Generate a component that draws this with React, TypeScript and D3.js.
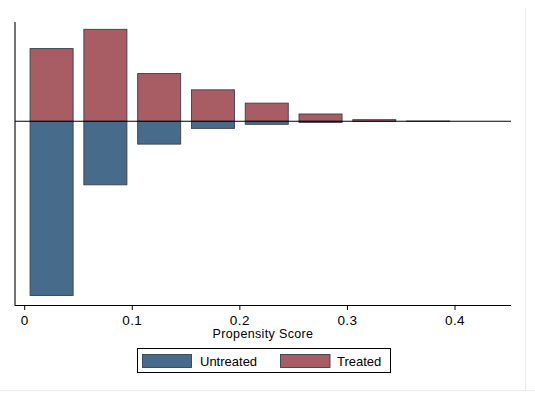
import React from "react";
import * as d3 from "d3";

const binCenters = [0.025, 0.075, 0.125, 0.175, 0.225, 0.275, 0.325, 0.375];
const treated = [0.268, 0.339, 0.176, 0.116, 0.067, 0.027, 0.006, 0.001];
const untreated = [0.642, 0.234, 0.084, 0.026, 0.011, 0.004, 0.0, 0.0];
const xTicks = [0, 0.1, 0.2, 0.3, 0.4];
const xTickLabels = ["0", "0.1", "0.2", "0.3", "0.4"];
const legendLabels = ["Untreated", "Treated"];

const W = 535;
const H = 393;
const BAR_W = 0.04;
const C_TREAT = "#a85c63";
const C_UNTREAT = "#476b8b";
const C_EDGE = "#3a3f4e";

export default function App() {
  const x = d3.scaleLinear().domain([0, 0.4]).range([24.7, 455]);
  const y = d3.scaleLinear().domain([-0.678, 0.366]).range([305.3, 22]);
  const x0 = 15;
  const x1 = 511;
  const font = "'Liberation Sans', Arial, sans-serif";

  return (
    <svg
      width={W}
      height={H}
      style={{ position: "absolute", left: 0, top: 0, background: "#fff" }}
      fontFamily={font}
    >
      <rect x={0} y={0} width={W} height={H} fill="#fff" />
      {/* faint outer frame */}
      <line x1={525.5} x2={525.5} y1={8} y2={390} stroke="#ececec" />
      <line x1={0} x2={535} y1={390.5} y2={390.5} stroke="#ececec" />

      {/* bars */}
      {binCenters.map((c, i) => (
        <g key={i}>
          <rect
            x={x(c - BAR_W / 2)}
            width={x(c + BAR_W / 2) - x(c - BAR_W / 2)}
            y={y(treated[i])}
            height={Math.max(0, y(0) - y(treated[i]))}
            fill={C_TREAT}
            stroke={C_EDGE}
            strokeWidth={0.9}
          />
          <rect
            x={x(c - BAR_W / 2)}
            width={x(c + BAR_W / 2) - x(c - BAR_W / 2)}
            y={y(0)}
            height={Math.max(0, y(-untreated[i]) - y(0))}
            fill={C_UNTREAT}
            stroke={C_EDGE}
            strokeWidth={0.9}
          />
        </g>
      ))}

      {/* zero line */}
      <line x1={x0} x2={x1} y1={y(0)} y2={y(0)} stroke="#000" strokeWidth={1.1} />

      {/* axes */}
      <line x1={x0} x2={x0} y1={22} y2={305.8} stroke="#000" strokeWidth={1.1} />
      <line x1={x0} x2={x1} y1={305.5} y2={305.5} stroke="#000" strokeWidth={1.1} />

      {xTicks.map((t, i) => (
        <g key={t}>
          <line x1={x(t)} x2={x(t)} y1={305.5} y2={310} stroke="#000" />
          <text
            x={x(t)}
            y={325}
            textAnchor="middle"
            fontSize={13.5}
            letterSpacing={0.4}
            fill="#000"
          >
            {xTickLabels[i]}
          </text>
        </g>
      ))}
      <text
        x={263}
        y={338}
        textAnchor="middle"
        fontSize={12.5}
        letterSpacing={0.35}
        fill="#000"
      >
        Propensity Score
      </text>

      {/* legend */}
      <rect x={137.5} y={348.5} width={253} height={24} fill="#fff" stroke="#000" />
      <rect x={142.5} y={354.5} width={49} height={13} fill={C_UNTREAT} stroke={C_EDGE} strokeWidth={0.9} />
      <text x={200} y={365.5} fontSize={13} fill="#000">
        {legendLabels[0]}
      </text>
      <rect x={280.5} y={354.5} width={49.5} height={13} fill={C_TREAT} stroke={C_EDGE} strokeWidth={0.9} />
      <text x={337} y={365.5} fontSize={13} fill="#000">
        {legendLabels[1]}
      </text>
    </svg>
  );
}
